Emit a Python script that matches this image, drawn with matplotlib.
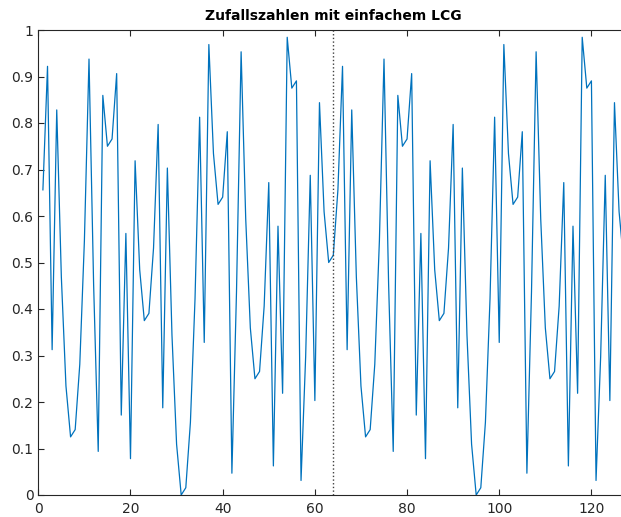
import numpy as np
import matplotlib
matplotlib.use("Agg")
import matplotlib.pyplot as plt

# Werte des LCG (2 Perioden zu je 64 Werten)
werte = [
    0.65625, 0.921875, 0.3125, 0.828125, 0.46875, 0.234375, 0.125, 0.140625,
    0.28125, 0.546875, 0.9375, 0.453125, 0.09375, 0.859375, 0.75, 0.765625,
    0.90625, 0.171875, 0.5625, 0.078125, 0.71875, 0.484375, 0.375, 0.390625,
    0.53125, 0.796875, 0.1875, 0.703125, 0.34375, 0.109375, 0.0, 0.015625,
    0.15625, 0.421875, 0.8125, 0.328125, 0.96875, 0.734375, 0.625, 0.640625,
    0.78125, 0.046875, 0.4375, 0.953125, 0.59375, 0.359375, 0.25, 0.265625,
    0.40625, 0.671875, 0.0625, 0.578125, 0.21875, 0.984375, 0.875, 0.890625,
    0.03125, 0.296875, 0.6875, 0.203125, 0.84375, 0.609375, 0.5, 0.515625,
    0.65625, 0.921875, 0.3125, 0.828125, 0.46875, 0.234375, 0.125, 0.140625,
    0.28125, 0.546875, 0.9375, 0.453125, 0.09375, 0.859375, 0.75, 0.765625,
    0.90625, 0.171875, 0.5625, 0.078125, 0.71875, 0.484375, 0.375, 0.390625,
    0.53125, 0.796875, 0.1875, 0.703125, 0.34375, 0.109375, 0.0, 0.015625,
    0.15625, 0.421875, 0.8125, 0.328125, 0.96875, 0.734375, 0.625, 0.640625,
    0.78125, 0.046875, 0.4375, 0.953125, 0.59375, 0.359375, 0.25, 0.265625,
    0.40625, 0.671875, 0.0625, 0.578125, 0.21875, 0.984375, 0.875, 0.890625,
    0.03125, 0.296875, 0.6875, 0.203125, 0.84375, 0.609375, 0.5, 0.515625,
]
periode = 64
xticks = [0, 20, 40, 60, 80, 100, 120]
yticks = [0, 0.1, 0.2, 0.3, 0.4, 0.5, 0.6, 0.7, 0.8, 0.9, 1]
ylabels = ["0", "0.1", "0.2", "0.3", "0.4", "0.5", "0.6", "0.7", "0.8", "0.9", "1"]

plt.rcParams['font.family'] = ['DejaVu Sans']

fig = plt.figure(figsize=(6.21, 5.17), dpi=100)
ax = fig.add_axes([38.3 / 621, 22 / 517, 590 / 621, 465 / 517])

x = np.arange(1, len(werte) + 1)
ax.plot(x, werte, color='#0072BD', lw=0.9)
ax.plot([periode, periode], [0, 1], color='#404040', ls=':', lw=1.0)

ax.set_xlim(0, 128)
ax.set_ylim(0, 1)
ax.set_xticks(xticks)
ax.set_yticks(yticks)
ax.set_yticklabels(ylabels)
ax.tick_params(direction='in', top=True, right=True, labelsize=10,
               colors='#262626', length=4, width=0.8)
ax.tick_params(axis='x', pad=5)
for s in ax.spines.values():
    s.set_color('#262626')
    s.set_linewidth(0.8)

ax.set_title('Zufallszahlen mit einfachem LCG', fontsize=10, fontweight='bold', pad=7)

plt.savefig("out.png", dpi=100)
